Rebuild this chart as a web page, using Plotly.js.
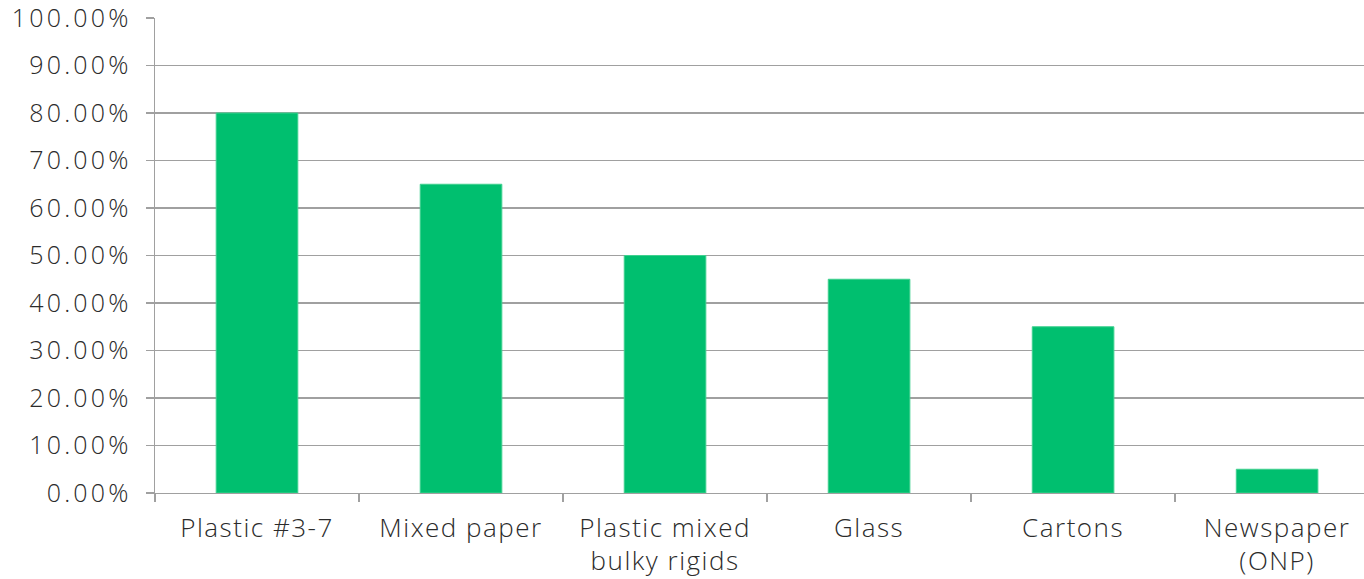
<!DOCTYPE html>
<html><head><meta charset="utf-8">
<script src="https://cdn.plot.ly/plotly-3.0.1.min.js"></script>
<style>body{margin:0;padding:0;background:#fff}#chart{width:1364px;height:579px}
.xtick text{letter-spacing:1.5px}
.ytick text{letter-spacing:3.2px}</style>
</head><body><div id="chart"></div>
<script>
const categories = ["Plastic #3-7", "Mixed paper", "Plastic mixed<br>bulky rigids", "Glass", "Cartons", "Newspaper<br>(ONP)"];
const values = [0.80, 0.65, 0.50, 0.45, 0.35, 0.05];
const yTickVals = [0, 0.1, 0.2, 0.3, 0.4, 0.5, 0.6, 0.7, 0.8, 0.9, 1.0];

const trace = {
  type: 'bar', x: categories, y: values,
  marker: {color: '#00BF6F', line: {color: '#3fd08f', width: 1}},
  width: 0.4, hoverinfo: 'none'
};
const fam = '"Open Sans", "DejaVu Sans", sans-serif';
const layout = {
  width: 1364, height: 579,
  margin: {l: 155, r: 0, t: 18, b: 86, pad: 0},
  paper_bgcolor: '#fff', plot_bgcolor: '#fff',
  showlegend: false, bargap: 0.6,
  font: {family: fam, color: '#2b2b2b'},
  xaxis: {
    type: 'category', range: [-0.5, 5.426],
    tickson: 'boundaries', ticks: 'outside', ticklen: 8, tickcolor: '#a0a0a0', tickwidth: 1.3,
    showline: true, linecolor: '#a0a0a0', linewidth: 1.3,
    showgrid: false, zeroline: false, ticklabelstandoff: 11, ticklabeloverflow: 'allow',
    tickfont: {size: 26, family: fam, color: '#2b2b2b', weight: 300}
  },
  yaxis: {
    range: [0, 1], tickvals: yTickVals, tickformat: '.2%',
    ticks: 'outside', ticklen: 8, tickcolor: '#a0a0a0', tickwidth: 1.3,
    showline: true, linecolor: '#a0a0a0', linewidth: 1.3,
    showgrid: true, gridcolor: '#a0a0a0', gridwidth: 1.3, zeroline: false,
    ticklabelstandoff: 9, ticklabeloverflow: 'allow',
    tickfont: {size: 25, family: fam, color: '#2b2b2b', weight: 300}
  }
};
Plotly.newPlot('chart', [trace], layout, {displayModeBar: false, staticPlot: true});
</script></body></html>
